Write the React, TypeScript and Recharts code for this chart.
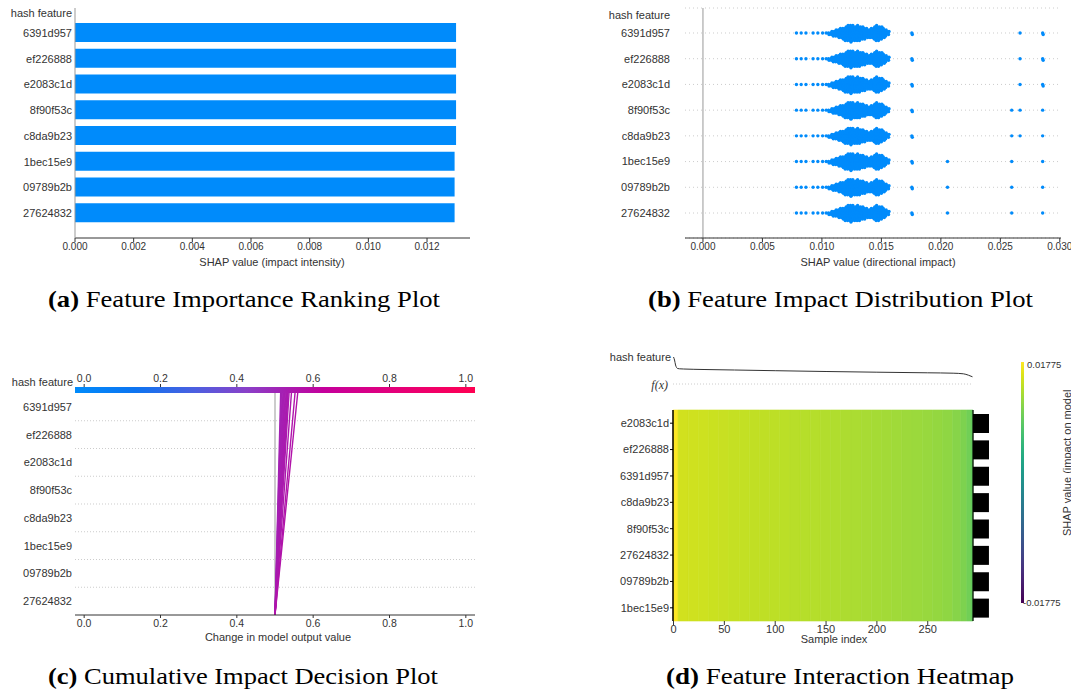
import React from 'react';
import {
  BarChart, Bar, XAxis, YAxis, ScatterChart, Scatter, CartesianGrid,
  ReferenceLine, ReferenceArea, LineChart, Line, ComposedChart,
} from 'recharts';

const SANS = '"Liberation Sans", Arial, Helvetica, sans-serif';
const SERIF = '"Liberation Serif", "Times New Roman", serif';
const TXT = '#333333';
const SHAP_BLUE = '#008bfb';

// ---------- (a) Feature importance ranking ----------
const rankFeatures = ['6391d957', 'ef226888', 'e2083c1d', '8f90f53c', 'c8da9b23', '1bec15e9', '09789b2b', '27624832'];
const rankValues = [0.01299, 0.01299, 0.01299, 0.01299, 0.01299, 0.01294, 0.01294, 0.01294];
const rankTicks = [0, 0.002, 0.004, 0.006, 0.008, 0.010, 0.012];

// ---------- (b) Beeswarm ----------
const swarmFeatures = ['6391d957', 'ef226888', 'e2083c1d', '8f90f53c', 'c8da9b23', '1bec15e9', '09789b2b', '27624832'];
const swarmCoreValues = [0.0079, 0.0083, 0.0087, 0.0093, 0.0097, 0.0101, 0.0104, 0.0106, 0.0108, 0.0110, 0.0112, 0.0114, 0.0116, 0.0118, 0.0120, 0.0122, 0.0124, 0.0126, 0.0128, 0.0130, 0.0132, 0.0134, 0.0136, 0.0138, 0.0140, 0.0142, 0.0144, 0.0146, 0.0148, 0.0150, 0.0152, 0.0154, 0.0156];
const swarmCoreCounts = [1, 1, 1, 1, 1, 1, 1, 2, 3, 4, 5, 6, 7, 8, 10, 11, 12, 11, 10, 11, 10, 9, 8, 7, 6, 7, 9, 11, 10, 9, 7, 5, 3];
const swarmOutlierValues = [
  [0.0176, 0.0267, 0.0286],
  [0.0176, 0.0267, 0.0286],
  [0.0176, 0.0267, 0.0286],
  [0.0176, 0.0260, 0.0267, 0.0286],
  [0.0176, 0.0260, 0.0267, 0.0286],
  [0.0176, 0.0206, 0.0260, 0.0286],
  [0.0176, 0.0206, 0.0260, 0.0286],
  [0.0176, 0.0206, 0.0260, 0.0286],
];
const swarmOutlierCounts = [
  [2, 1, 2], [2, 1, 2], [2, 1, 2],
  [2, 1, 1, 1], [2, 1, 1, 1],
  [2, 1, 1, 1], [2, 1, 1, 1], [2, 1, 1, 1],
];
const swarmTicks = [0, 0.005, 0.010, 0.015, 0.020, 0.025, 0.030];

// ---------- (c) Decision plot ----------
const decisionFeatures = ['27624832', '09789b2b', '1bec15e9', 'c8da9b23', '8f90f53c', 'e2083c1d', 'ef226888', '6391d957']; // bottom -> top
const decisionBase = 0.5;
const decisionPerFeature = [0.00185, 0.0021, 0.00235, 0.0026, 0.00285, 0.0031, 0.00335, 0.0036, 0.00385, 0.0041, 0.0043, 0.0046, 0.00538, 0.00656, 0.00744];
const decisionTicks = [0, 0.2, 0.4, 0.6, 0.8, 1.0];

// ---------- (d) Heatmap ----------
const heatFeatures = ['e2083c1d', 'ef226888', '6391d957', 'c8da9b23', '8f90f53c', '27624832', '09789b2b', '1bec15e9'];
const heatImportance = [0.01299, 0.01299, 0.01299, 0.01294, 0.01294, 0.01294, 0.01294, 0.01294];
const heatBinEdges = [-0.5, 4.5, 14.5, 24.5, 34.5, 44.5, 54.5, 64.5, 74.5, 84.5, 94.5, 104.5, 114.5, 124.5, 134.5, 144.5, 154.5, 164.5, 174.5, 184.5, 194.5, 204.5, 214.5, 224.5, 234.5, 244.5, 254.5, 264.5, 274.5, 282.5, 288.5, 292.5, 294.5];
const heatBinValues = [0.01775, 0.01525, 0.01513, 0.01502, 0.0149, 0.01475, 0.01462, 0.0145, 0.0144, 0.01428, 0.01418, 0.01408, 0.01396, 0.01386, 0.01376, 0.01365, 0.01352, 0.01338, 0.01325, 0.0131, 0.01296, 0.01282, 0.01268, 0.01254, 0.0124, 0.01224, 0.01205, 0.0118, 0.01135, 0.0108, 0.0101, 0.00935];
const fxIndex = [0, 1, 2, 3, 4, 6, 10, 30, 60, 100, 150, 200, 250, 275, 285, 290, 294];
const fxValue = [0.527, 0.524, 0.519, 0.5165, 0.5155, 0.5152, 0.515, 0.5145, 0.514, 0.5133, 0.5125, 0.5118, 0.5112, 0.5108, 0.5102, 0.5088, 0.5072];
const heatTicks = [0, 50, 100, 150, 200, 250];
const heatColorMax = 0.01775;

// ---------- colour maps (style) ----------
const viridisStops: [number, string][] = [
  [0.0, '#440154'], [0.05, '#471365'], [0.1, '#482475'], [0.15, '#463480'], [0.2, '#414487'],
  [0.25, '#3b528b'], [0.3, '#355f8d'], [0.35, '#2f6c8e'], [0.4, '#2a788e'], [0.45, '#25848e'],
  [0.5, '#21918c'], [0.55, '#1e9c89'], [0.6, '#22a884'], [0.65, '#2fb47c'], [0.7, '#44bf70'],
  [0.75, '#5ec962'], [0.8, '#7ad151'], [0.85, '#9bd93c'], [0.9, '#bddf26'], [0.95, '#dfe318'], [1.0, '#fde725'],
];
const redBlueStops: [number, string][] = [
  [0.0, '#008bfb'], [0.15, '#0d74f0'], [0.3, '#4c5fe0'], [0.43, '#8a40c8'], [0.53, '#a81cb0'],
  [0.62, '#c4009c'], [0.8, '#e4007a'], [1.0, '#ff0052'],
];

function hexToRgb(h: string) {
  const n = parseInt(h.slice(1), 16);
  return [(n >> 16) & 255, (n >> 8) & 255, n & 255];
}
function mapColor(stops: [number, string][], t: number) {
  const tt = Math.max(0, Math.min(1, t));
  for (let i = 0; i < stops.length - 1; i++) {
    const [t0, c0] = stops[i];
    const [t1, c1] = stops[i + 1];
    if (tt >= t0 && tt <= t1) {
      const f = (tt - t0) / (t1 - t0);
      const a = hexToRgb(c0), b = hexToRgb(c1);
      const r = a.map((v, k) => Math.round(v + (b[k] - v) * f));
      return `rgb(${r[0]},${r[1]},${r[2]})`;
    }
  }
  return stops[stops.length - 1][1];
}

// ---------- derived data ----------
const rankData = rankFeatures.map((name, i) => ({ name, value: rankValues[i] }));

const swarmPoints: { x: number; y: number; k: number }[] = [];
swarmFeatures.forEach((_, row) => {
  swarmCoreValues.forEach((v, i) => {
    for (let k = 0; k < swarmCoreCounts[i]; k++) swarmPoints.push({ x: v, y: row, k });
  });
  swarmOutlierValues[row].forEach((v, i) => {
    for (let k = 0; k < swarmOutlierCounts[row][i]; k++) swarmPoints.push({ x: v, y: row, k });
  });
});

const decisionRows = Array.from({ length: 9 }, (_, pos) => {
  const o: any = { pos };
  decisionPerFeature.forEach((c, i) => { o['s' + i] = decisionBase + pos * c; });
  return o;
});

const fxData = fxIndex.map((idx, i) => ({ idx, fx: fxValue[i] }));
const heatBins = heatBinValues.map((v, i) => ({ x1: heatBinEdges[i], x2: heatBinEdges[i + 1], v }));
const heatAnchor = heatBins.map(b => ({ idx: (b.x1 + b.x2) / 2, row: 4 }));
const heatBarData = heatFeatures.map((name, i) => ({ name, value: heatImportance[i] }));

const SwarmDot = (props: any) => {
  const { cx, cy, payload } = props;
  if (cx == null || cy == null) return <g />;
  const k = payload.k;
  const off = k === 0 ? 0 : (k % 2 === 1 ? (k + 1) / 2 : -k / 2) * 1.5;
  const dx = ((k % 3) - 1) * 0.5;
  return <circle cx={cx + dx} cy={cy + off} r={1.7} fill={SHAP_BLUE} />;
};

const tickA = { fontSize: 10, fill: TXT, fontFamily: SANS };
const tickLab = { fontSize: 11, fill: TXT, fontFamily: SANS };

const cDomain: [number, number] = [-0.024, 1.024];

export default function App() {
  return (
    <div style={{ position: 'absolute', left: 0, top: 0, width: 1071, height: 696, background: '#fff', overflow: 'hidden' }}>
      {/* (a) */}
      <div style={{ position: 'absolute', left: 0, top: 0 }}>
        <BarChart width={480} height={280} data={rankData} layout="vertical" margin={{ top: 8, right: 10, bottom: 12, left: 0 }}>
          <XAxis type="number" domain={[0, 0.013465]} ticks={rankTicks} tickFormatter={(v: number) => v.toFixed(3)}
            axisLine={{ stroke: '#333' }} tickLine={{ stroke: '#333' }} tickSize={4} tickMargin={1} height={30} tick={tickA} />
          <YAxis type="category" dataKey="name" width={75} interval={0} axisLine={{ stroke: '#999' }} tickLine={false}
            tickSize={0} tickMargin={3} tick={tickLab} padding={{ top: 12, bottom: 12 }} />
          <Bar dataKey="value" fill={SHAP_BLUE} barSize={19} isAnimationActive={false} />
        </BarChart>
      </div>

      {/* (b) */}
      <div style={{ position: 'absolute', left: 590, top: 0 }}>
        <ScatterChart width={495} height={280} margin={{ top: 8, right: 24, bottom: 12, left: 0 }}>
          <CartesianGrid vertical={false} stroke="#cccccc" strokeDasharray="1 3" />
          <XAxis type="number" dataKey="x" domain={[-0.00151, 0.0301]} ticks={swarmTicks} tickFormatter={(v: number) => v.toFixed(3)}
            axisLine={{ stroke: '#333' }} tickLine={{ stroke: '#333' }} tickSize={4} tickMargin={1} height={30} tick={tickA} />
          <YAxis type="number" dataKey="y" domain={[-0.972, 7.972]} reversed ticks={[0, 1, 2, 3, 4, 5, 6, 7]} interval={0}
            tickFormatter={(v: number) => swarmFeatures[v]} axisLine={false} tickLine={false} tickSize={0} tickMargin={15}
            width={95} tick={tickLab} />
          <ReferenceLine x={0} stroke="#999" />
          <Scatter data={swarmPoints} shape={(p: any) => <SwarmDot {...p} />} isAnimationActive={false} />
        </ScatterChart>
      </div>

      {/* (c) */}
      <div style={{ position: 'absolute', left: 0, top: 340 }}>
        <LineChart width={480} height={300} data={decisionRows} layout="vertical" margin={{ top: 27, right: 5, bottom: 0, left: 0 }}>
          <defs>
            <linearGradient id="cbarC" x1="0" y1="0" x2="1" y2="0">
              {redBlueStops.map(([o, c]) => <stop key={o} offset={o} stopColor={c} />)}
            </linearGradient>
          </defs>
          <XAxis xAxisId="top" orientation="top" type="number" domain={cDomain} ticks={decisionTicks}
            tickFormatter={(v: number) => v.toFixed(1)} axisLine={false} tickLine={{ stroke: '#333' }} tickSize={3} tickMargin={2}
            height={20} tick={{ ...tickA, fontSize: 10.5 }} />
          <XAxis xAxisId="bottom" type="number" domain={cDomain} ticks={decisionTicks}
            tickFormatter={(v: number) => v.toFixed(1)} axisLine={{ stroke: '#333' }} tickLine={{ stroke: '#333' }} tickSize={3}
            tickMargin={2} height={25} tick={{ ...tickA, fontSize: 10.5 }} />
          <YAxis type="number" dataKey="pos" domain={[0, 8.216]} reversed ticks={[0.5, 1.5, 2.5, 3.5, 4.5, 5.5, 6.5, 7.5]} interval={0}
            tickFormatter={(v: number) => decisionFeatures[Math.floor(v)]} axisLine={false} tickLine={false} tickSize={0}
            tickMargin={3} width={75} tick={tickLab} />
          {[1, 2, 3, 4, 5, 6, 7].map(k => (
            <ReferenceLine key={k} xAxisId="bottom" y={k} stroke="#cccccc" strokeDasharray="1 2" />
          ))}
          <ReferenceLine xAxisId="bottom" segment={[{ x: 0.5, y: 0 }, { x: 0.5, y: 8 }]} stroke="#999" />
          <Line xAxisId="top" dataKey="s0" stroke="transparent" strokeWidth={0} dot={false} isAnimationActive={false} />
          {decisionPerFeature.map((c, i) => (
            <Line key={i} xAxisId="bottom" dataKey={'s' + i} type="linear" dot={false} isAnimationActive={false}
              stroke={mapColor(redBlueStops, decisionBase + 8 * c)} strokeWidth={1.4} />
          ))}
          <ReferenceArea xAxisId="bottom" x1={cDomain[0]} x2={cDomain[1]} y1={8} y2={8.216} fill="url(#cbarC)" fillOpacity={1}
            stroke="none" ifOverflow="visible" />
        </LineChart>
      </div>

      {/* (d) f(x) line */}
      <div style={{ position: 'absolute', left: 673, top: 350 }}>
        <LineChart width={300} height={40} data={fxData} margin={{ top: 0, right: 0, bottom: 0, left: 0 }}>
          <XAxis hide type="number" dataKey="idx" domain={[-0.5, 294.5]} />
          <YAxis hide type="number" domain={[0.494, 0.534]} />
          <ReferenceLine y={0.5} stroke="#cccccc" strokeDasharray="1 2" />
          <Line dataKey="fx" type="monotone" stroke="#333" strokeWidth={1} dot={false} isAnimationActive={false} />
        </LineChart>
      </div>

      {/* (d) heatmap */}
      <div style={{ position: 'absolute', left: 600, top: 400 }}>
        <ComposedChart width={390} height={250} data={heatAnchor} margin={{ top: 10, right: 17, bottom: 9, left: 0 }}>
          <XAxis type="number" dataKey="idx" domain={[-0.5, 294.5]} ticks={heatTicks} axisLine={false}
            tickLine={{ stroke: '#333' }} tickSize={4} tickMargin={0} height={20} tick={tickLab} />
          <YAxis type="number" dataKey="row" domain={[0, 8]} reversed ticks={[0.5, 1.5, 2.5, 3.5, 4.5, 5.5, 6.5, 7.5]} interval={0}
            tickFormatter={(v: number) => heatFeatures[Math.floor(v)]} axisLine={{ stroke: '#000', strokeWidth: 1.5 }}
            tickLine={{ stroke: '#000' }} tickSize={3} tickMargin={1} width={73} tick={tickLab} />
          {heatBins.map((b, i) => {
            const c = mapColor(viridisStops, (b.v + heatColorMax) / (2 * heatColorMax));
            return (
              <ReferenceArea key={i} x1={b.x1} x2={b.x2} y1={0} y2={8} fill={c} fillOpacity={1} stroke={c}
                strokeWidth={0.6} ifOverflow="visible" />
            );
          })}
          <ReferenceLine x={294.5} stroke="#000" strokeWidth={1.2} ifOverflow="visible" />
          <Scatter dataKey="row" shape={() => <g />} isAnimationActive={false} />
        </ComposedChart>
      </div>

      {/* (d) importance bars */}
      <div style={{ position: 'absolute', left: 973, top: 410 }}>
        <BarChart width={16} height={211} data={heatBarData} layout="vertical" margin={{ top: 0, right: 0, bottom: 0, left: 0 }}>
          <XAxis hide type="number" domain={[0, 0.01299]} />
          <YAxis hide type="category" dataKey="name" />
          <Bar dataKey="value" fill="#000" barSize={19} isAnimationActive={false} />
        </BarChart>
      </div>

      {/* overlay texts */}
      <svg width={1071} height={696} style={{ position: 'absolute', left: 0, top: 0, pointerEvents: 'none' }}>
        <defs>
          <linearGradient id="viridisV" x1="0" y1="1" x2="0" y2="0">
            {viridisStops.map(([o, c]) => <stop key={o} offset={o} stopColor={c} />)}
          </linearGradient>
        </defs>
        <g fontFamily={SANS} fontSize={11} fill={TXT}>
          <text x={72} y={13} textAnchor="end" dominantBaseline="central">hash feature</text>
          <text x={272} y={262} textAnchor="middle" dominantBaseline="central">SHAP value (impact intensity)</text>
          <text x={670} y={15} textAnchor="end" dominantBaseline="central">hash feature</text>
          <text x={878} y={262} textAnchor="middle" dominantBaseline="central">SHAP value (directional impact)</text>
          <text x={73} y={382} textAnchor="end" dominantBaseline="central">hash feature</text>
          <text x={278} y={637} textAnchor="middle" dominantBaseline="central">Change in model output value</text>
          <text x={671} y={357} textAnchor="end" dominantBaseline="central">hash feature</text>
          <text x={834} y={639} textAnchor="middle" dominantBaseline="central">Sample index</text>
          <text x={1027} y={364} dominantBaseline="central" fontSize={9.5}>0.01775</text>
          <text x={1023} y={602} dominantBaseline="central" fontSize={9.5}>-0.01775</text>
          <text transform="translate(1071,536) rotate(-90)" fontSize={11}>SHAP value (impact on model</text>
        </g>
        <text x={668} y={385} textAnchor="end" dominantBaseline="central" fontFamily={SERIF} fontStyle="italic" fontSize={12} fill="#333">f(x)</text>
        <rect x={1021} y={362} width={3} height={241} fill="url(#viridisV)" />
        <g fontFamily={SERIF} fontSize={23} fill="#000">
          <text x={48} y={307} textLength={392} lengthAdjust="spacingAndGlyphs"><tspan fontWeight="bold">(a)</tspan> Feature Importance Ranking Plot</text>
          <text x={648} y={307} textLength={385} lengthAdjust="spacingAndGlyphs"><tspan fontWeight="bold">(b)</tspan> Feature Impact Distribution Plot</text>
          <text x={48} y={684} textLength={390} lengthAdjust="spacingAndGlyphs"><tspan fontWeight="bold">(c)</tspan> Cumulative Impact Decision Plot</text>
          <text x={666} y={684} textLength={348} lengthAdjust="spacingAndGlyphs"><tspan fontWeight="bold">(d)</tspan> Feature Interaction Heatmap</text>
        </g>
      </svg>
    </div>
  );
}
